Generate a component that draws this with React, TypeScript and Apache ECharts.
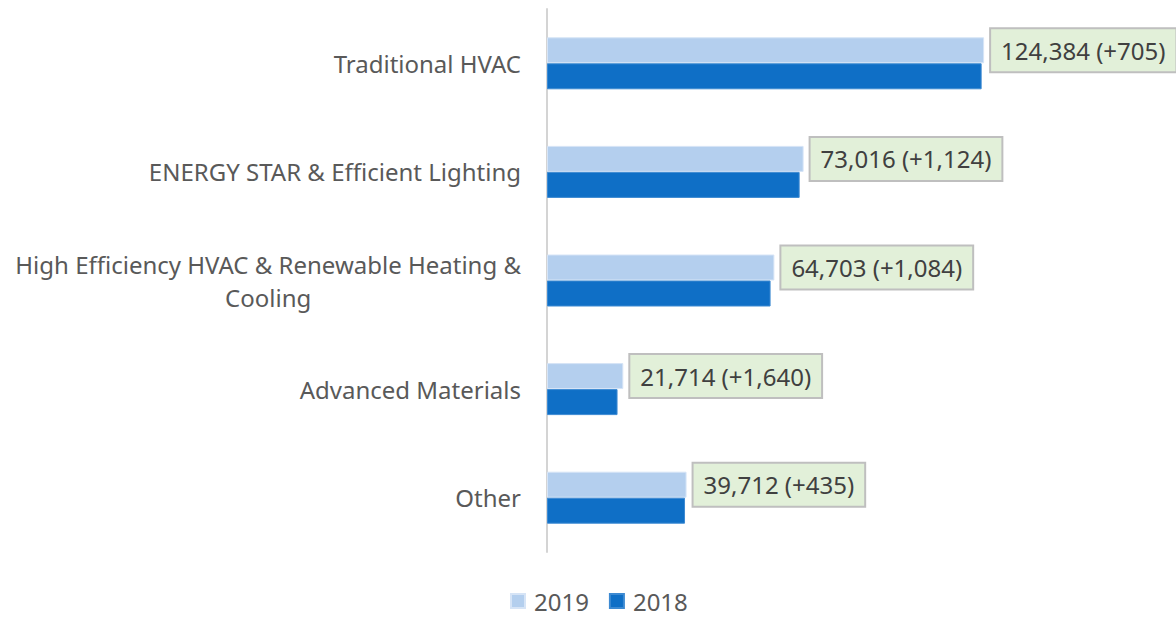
import React, { useEffect, useRef } from "react";
import * as echarts from "echarts";

const categories = [
  "Traditional HVAC",
  "ENERGY STAR & Efficient Lighting",
  "High Efficiency HVAC & Renewable Heating & Cooling",
  "Advanced Materials",
  "Other",
];
const values2019 = [124384, 73016, 64703, 21714, 39712];
const values2018 = [123679, 71892, 63619, 20074, 39277];
const seriesNames = ["2019", "2018"];

const FONT = "'Noto Sans', sans-serif";
const fmt = (n: number) => n.toLocaleString("en-US");

function wrapLabel(s: string): string {
  if (s === "High Efficiency HVAC & Renewable Heating & Cooling") {
    return "{c|High Efficiency HVAC & Renewable Heating &}\n{c|Cooling}";
  }
  return "{c|" + s + "}";
}

export default function App() {
  const ref = useRef<HTMLDivElement>(null);
  useEffect(() => {
    document.body.style.margin = "0";
    if (!ref.current) return;
    const chart = echarts.init(ref.current, null, { renderer: "svg" });
    chart.setOption({
      animation: false,
      backgroundColor: "#ffffff",
      textStyle: { fontFamily: FONT },
      grid: {
        left: 547,
        right: 137,
        top: 9,
        bottom: 67,
        outerBoundsMode: "none",
        containLabel: false,
      },
      legend: {
        data: seriesNames,
        left: 505,
        top: 584,
        icon: "rect",
        itemWidth: 14,
        itemHeight: 14,
        itemGap: 20,
        textStyle: { fontSize: 24, color: "#595959", fontFamily: FONT, padding: [0, 0, 0, 4] },
      },
      xAxis: {
        type: "value",
        min: 0,
        max: 140000,
        show: false,
      },
      yAxis: {
        type: "category",
        data: categories,
        inverse: true,
        axisLine: { show: true, lineStyle: { color: "#d4d4d4", width: 2 } },
        axisTick: { show: false },
        splitLine: { show: false },
        axisLabel: {
          margin: 26,
          formatter: (v: string) => wrapLabel(v),
          rich: {
            c: {
              fontSize: 24,
              color: "#595959",
              fontFamily: FONT,
              align: "center",
              lineHeight: 33,
            },
          },
        },
      },
      series: [
        {
          name: seriesNames[0],
          type: "bar",
          data: values2019,
          barWidth: 26,
          barGap: "0%",
          itemStyle: { color: "#b4cfee", borderColor: "#d6e4f6", borderWidth: 1 },
          label: {
            show: true,
            position: "right",
            distance: 7,
            formatter: (p: any) =>
              `${fmt(values2019[p.dataIndex])} (+${fmt(values2019[p.dataIndex] - values2018[p.dataIndex])})`,
            fontSize: 24,
            fontFamily: FONT,
            color: "#404040",
            backgroundColor: "#e2f0d9",
            borderColor: "#bfbfbf",
            borderWidth: 2,
            padding: [6, 10, 6, 10],
            lineHeight: 30,
          },
        },
        {
          name: seriesNames[1],
          type: "bar",
          data: values2018,
          barWidth: 26,
          barGap: "0%",
          itemStyle: { color: "#0f6fc6", borderColor: "#3d8ad2", borderWidth: 1 },
        },
      ],
    });
    return () => chart.dispose();
  }, []);
  return <div ref={ref} style={{ width: 1176, height: 619 }} />;
}
